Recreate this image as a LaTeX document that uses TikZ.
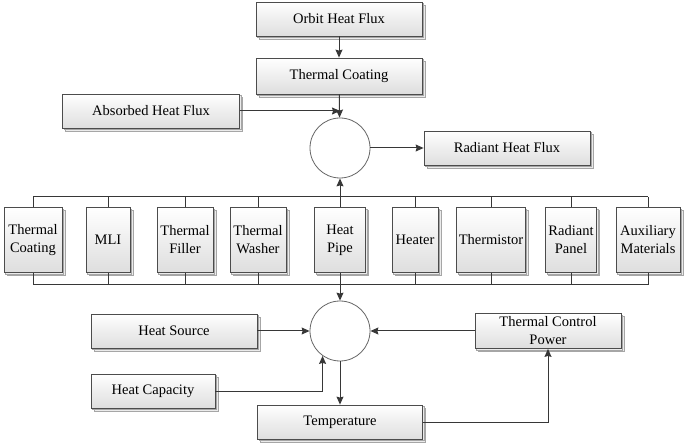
\documentclass[tikz,border=0pt]{standalone}
\usepackage{fontspec}
\setmainfont{Liberation Serif}
\usepackage{tikz}
\usetikzlibrary{arrows.meta,calc,positioning,shapes,shadows}
\tikzset{
  blk/.style = {align=center, inner sep=2pt, draw=black!70, line width=0.8pt,
  top color=white, bottom color=black!13, text=black,
  double copy shadow={shadow xshift=1.5pt, shadow yshift=-1.5pt, draw=black!35, fill=black!8},
  font=\fontsize{14.5}{18}\selectfont},
  blk_h/.style = {blk, minimum height=34pt},
  blk_v/.style = {blk, minimum height=65pt},
  sum_n/.style = {circle, draw=black!60, line width=0.8pt, fill=white, minimum size=60pt, inner sep=0pt}
}
\definecolor{my_line}{RGB}{55, 55, 55}

\begin{document}
\begin{tikzpicture}[x=1pt,y=-1pt,->,>={Stealth[length=8pt,width=7pt,inset=1pt]},
            color=my_line,line width=1pt,
            wire/.style={-}]
  \path [use as bounding box] (0,0) rectangle (685,443);
  % heat flux on the outside
  \node [blk_h, minimum width=166pt] (orbit) at (339,19) {Orbit Heat Flux};
  \node [blk_h, minimum width=166pt, minimum height=36pt] (coat) at (339,76) {Thermal Coating};
  \node [blk_h, minimum width=177pt] (absorb) at (151,111) {Absorbed Heat Flux};
  \node [sum_n] (sum_a) at (340,148) {};
  \node [blk_h, minimum width=166pt] (radiant) at (507,148) {Radiant Heat Flux};
  % thermal control parts
  \foreach \x/\w/\n/\txt in {33/58/tc/{Thermal\\Coating}, 108/44/mli/{MLI},
      185/56/tf/{Thermal\\Filler}, 258/56/tw/{Thermal\\Washer}, 340/51/hp/{Heat\\Pipe},
      415/46/ht/{Heater}, 491/68/ts/{Thermistor}, 571/51/rp/{Radiant\\Panel},
      648/64/aux/{Auxiliary\\Materials}}
    \node [blk_v, minimum width=\w pt] (\n) at (\x,240) {\txt};
  \coordinate (bus_t) at (0,197);
  \coordinate (bus_b) at (0,285);
  \draw [wire] (tc.north |- bus_t) -- (aux.north |- bus_t);
  \draw [wire] (tc.south |- bus_b) -- (aux.south |- bus_b);
  \foreach \n in {tc,mli,tf,tw,hp,ht,ts,rp,aux} {
    \draw [wire] (\n.north) -- (\n.north |- bus_t);
    \draw [wire] (\n.south) -- (\n.south |- bus_b);
  }
  % heat balance inside
  \node [blk_h, minimum width=166pt] (src) at (174,331) {Heat Source};
  \node [blk_h, minimum width=124pt] (cap) at (153,391) {Heat Capacity};
  \node [sum_n] (sum_b) at (340,331) {};
  \node [blk_h, minimum width=146pt, minimum height=35pt] (tcp) at (548,331) {Thermal Control\\Power};
  \node [blk_h, minimum width=165pt] (temp) at (340,422) {Temperature};

  \draw (orbit) -- (coat);
  \draw (coat) -- (sum_a);
  \draw (absorb.east) -- (absorb.east -| sum_a);
  \draw (sum_a) -- (radiant);
  \draw (hp.north |- bus_t) -- (sum_a.south);
  \draw (hp.south |- bus_b) -- (sum_b.north);
  \draw (src) -- (sum_b);
  \draw (cap.east) -| (sum_b.235);
  \draw (tcp) -- (sum_b);
  \draw (sum_b) -- (temp);
  \draw (temp.east) -| (tcp.south);
\end{tikzpicture}
\end{document}
